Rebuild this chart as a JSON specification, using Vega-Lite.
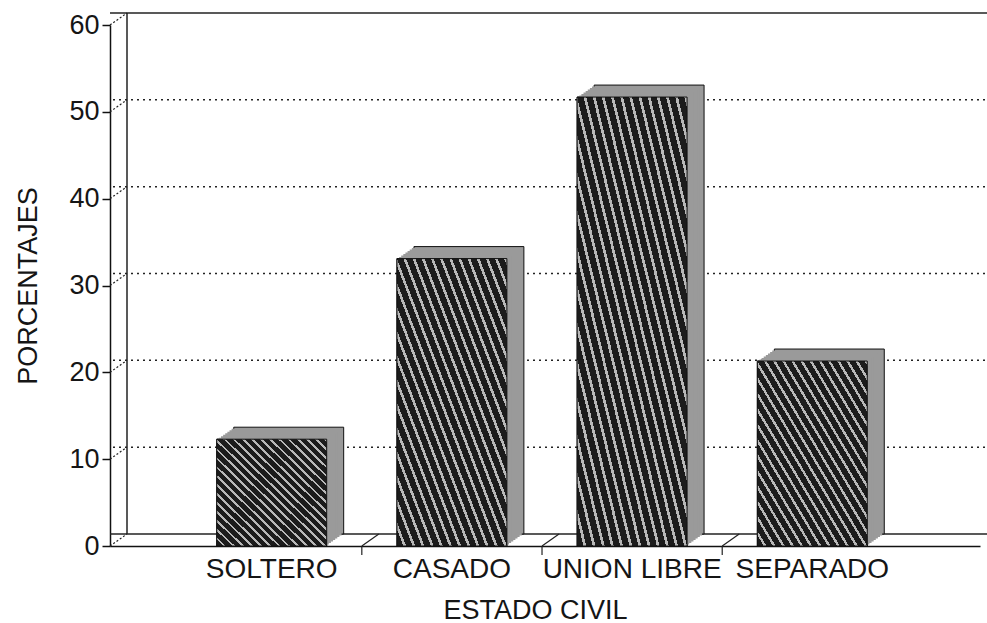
{
  "$schema": "https://vega.github.io/schema/vega-lite/v6.json",
  "width": 870,
  "height": 521,
  "autosize": {"type": "none"},
  "padding": {"left": 110, "top": 25, "right": 7, "bottom": 77},
  "background": "white",
  "config": {
    "view": {"stroke": null},
    "axis": {
      "labelFont": "Liberation Sans",
      "titleFont": "Liberation Sans",
      "labelFontSize": 27,
      "titleFontSize": 27,
      "titleFontWeight": "normal",
      "labelColor": "#151515",
      "titleColor": "#151515",
      "domainColor": "#111111",
      "domainWidth": 1.5,
      "tickColor": "#111111",
      "grid": false
    }
  },
  "datasets": {
    "bars": [
      {"cat": "SOLTERO", "value": 12.3},
      {"cat": "CASADO", "value": 33.1},
      {"cat": "UNION LIBRE", "value": 51.7},
      {"cat": "SEPARADO", "value": 21.3}
    ],
    "ticks": [{"v": 0}, {"v": 10}, {"v": 20}, {"v": 30}, {"v": 40}, {"v": 50}, {"v": 60}]
  },
  "layer": [
    {
      "data": {"name": "bars"},
      "mark": {
        "type": "bar",
        "width": {"band": 0.61},
        "stroke": "#111111",
        "strokeWidth": 1,
        "fillOpacity": 0
      },
      "encoding": {
        "x": {
          "field": "cat", "type": "nominal",
          "scale": {"domain": ["SOLTERO", "CASADO", "UNION LIBRE", "SEPARADO"], "paddingInner": 0, "paddingOuter": 0.414, "align": 0.48},
          "axis": {"title": "ESTADO CIVIL", "labelAngle": 0, "ticks": false, "labelPadding": 9, "labelFontSize": 28, "titlePadding": 14, "titleX": 425, "titleY": 51, "labelLimit": 300}
        },
        "y": {
          "field": "value", "type": "quantitative",
          "scale": {"domain": [0, 60], "nice": false},
          "axis": {"title": "PORCENTAJES", "values": [0, 10, 20, 30, 40, 50, 60], "tickSize": 8, "tickWidth": 1.5, "labelPadding": 3, "titlePadding": 26}
        },
        "y2": {"datum": 0}
      }
    },
    {
      "data": {"name": "ticks"},
      "transform": [{"filter": "datum.v > 0 && datum.v < 60"}],
      "mark": {"type": "rule", "color": "#222222", "strokeWidth": 1.5, "strokeDash": [2, 4], "xOffset": 17, "x2Offset": 17, "yOffset": -12},
      "encoding": {"y": {"field": "v", "type": "quantitative"}}
    },
    {
      "data": {"name": "ticks"},
      "transform": [{"filter": "datum.v == 0 || datum.v == 60"}],
      "mark": {"type": "rule", "color": "#222222", "strokeWidth": 1.5, "xOffset": 17, "x2Offset": 17, "yOffset": -12},
      "encoding": {"y": {"field": "v", "type": "quantitative"}}
    },
    {
      "data": {"name": "ticks"},
      "transform": [{"filter": "datum.v == 0"}],
      "mark": {"type": "rule", "color": "#222222", "strokeWidth": 1.5, "xOffset": 17, "yOffset": -12, "y2Offset": -12},
      "encoding": {
        "x": {"value": 0},
        "y": {"field": "v", "type": "quantitative"},
        "y2": {"datum": 60}
      }
    },
    {
      "data": {"name": "ticks"},
      "mark": {"type": "rule", "color": "#222222", "strokeWidth": 1.2, "strokeDash": [2, 2], "x2Offset": 17, "y2Offset": -12},
      "encoding": {
        "x": {"value": 0},
        "x2": {"value": 0},
        "y": {"field": "v", "type": "quantitative"},
        "y2": {"field": "v"}
      }
    },
    {
      "data": {"name": "bars"},
      "mark": {"type": "bar", "width": {"band": 0.61}, "fill": "#9a9a9a", "stroke": "#111111", "strokeWidth": 1, "xOffset": 17, "x2Offset": 17, "yOffset": -12, "y2Offset": -12},
      "encoding": {
        "x": {"field": "cat", "type": "nominal"},
        "y": {"field": "value", "type": "quantitative"},
        "y2": {"datum": 0}
      }
    },
    {
      "data": {"name": "bars"},
      "mark": {"type": "bar", "width": {"band": 0.61}, "fill": "#9a9a9a", "xOffset": 14.875, "x2Offset": 14.875, "yOffset": -10.5, "y2Offset": -10.5},
      "encoding": {
        "x": {"field": "cat", "type": "nominal"},
        "y": {"field": "value", "type": "quantitative"},
        "y2": {"datum": 0}
      }
    },
    {
      "data": {"name": "bars"},
      "mark": {"type": "bar", "width": {"band": 0.61}, "fill": "#9a9a9a", "xOffset": 12.75, "x2Offset": 12.75, "yOffset": -9, "y2Offset": -9},
      "encoding": {
        "x": {"field": "cat", "type": "nominal"},
        "y": {"field": "value", "type": "quantitative"},
        "y2": {"datum": 0}
      }
    },
    {
      "data": {"name": "bars"},
      "mark": {"type": "bar", "width": {"band": 0.61}, "fill": "#9a9a9a", "xOffset": 10.625, "x2Offset": 10.625, "yOffset": -7.5, "y2Offset": -7.5},
      "encoding": {
        "x": {"field": "cat", "type": "nominal"},
        "y": {"field": "value", "type": "quantitative"},
        "y2": {"datum": 0}
      }
    },
    {
      "data": {"name": "bars"},
      "mark": {"type": "bar", "width": {"band": 0.61}, "fill": "#9a9a9a", "xOffset": 8.5, "x2Offset": 8.5, "yOffset": -6, "y2Offset": -6},
      "encoding": {
        "x": {"field": "cat", "type": "nominal"},
        "y": {"field": "value", "type": "quantitative"},
        "y2": {"datum": 0}
      }
    },
    {
      "data": {"name": "bars"},
      "mark": {"type": "bar", "width": {"band": 0.61}, "fill": "#9a9a9a", "xOffset": 6.375, "x2Offset": 6.375, "yOffset": -4.5, "y2Offset": -4.5},
      "encoding": {
        "x": {"field": "cat", "type": "nominal"},
        "y": {"field": "value", "type": "quantitative"},
        "y2": {"datum": 0}
      }
    },
    {
      "data": {"name": "bars"},
      "mark": {"type": "bar", "width": {"band": 0.61}, "fill": "#9a9a9a", "xOffset": 4.25, "x2Offset": 4.25, "yOffset": -3, "y2Offset": -3},
      "encoding": {
        "x": {"field": "cat", "type": "nominal"},
        "y": {"field": "value", "type": "quantitative"},
        "y2": {"datum": 0}
      }
    },
    {
      "data": {"name": "bars"},
      "mark": {"type": "bar", "width": {"band": 0.61}, "fill": "#9a9a9a", "xOffset": 2.125, "x2Offset": 2.125, "yOffset": -1.5, "y2Offset": -1.5},
      "encoding": {
        "x": {"field": "cat", "type": "nominal"},
        "y": {"field": "value", "type": "quantitative"},
        "y2": {"datum": 0}
      }
    },
    {
      "data": {"name": "bars"},
      "mark": {
        "type": "bar",
        "width": {"band": 0.61},
        "stroke": "#111111",
        "strokeWidth": 1,
        "fill": {
          "gradient": "linear",
          "x1": 0, "y1": 1, "x2": 1, "y2": 0,
          "stops": [
            {"offset": 0, "color": "#1c1c1c"}, {"offset": 0.0292, "color": "#1c1c1c"}, {"offset": 0.0292, "color": "#b8b8b8"}, {"offset": 0.0417, "color": "#b8b8b8"},
            {"offset": 0.0417, "color": "#1c1c1c"}, {"offset": 0.0708, "color": "#1c1c1c"}, {"offset": 0.0708, "color": "#b8b8b8"}, {"offset": 0.0833, "color": "#b8b8b8"},
            {"offset": 0.0833, "color": "#1c1c1c"}, {"offset": 0.1125, "color": "#1c1c1c"}, {"offset": 0.1125, "color": "#b8b8b8"}, {"offset": 0.125, "color": "#b8b8b8"},
            {"offset": 0.125, "color": "#1c1c1c"}, {"offset": 0.1542, "color": "#1c1c1c"}, {"offset": 0.1542, "color": "#b8b8b8"}, {"offset": 0.1667, "color": "#b8b8b8"},
            {"offset": 0.1667, "color": "#1c1c1c"}, {"offset": 0.1958, "color": "#1c1c1c"}, {"offset": 0.1958, "color": "#b8b8b8"}, {"offset": 0.2083, "color": "#b8b8b8"},
            {"offset": 0.2083, "color": "#1c1c1c"}, {"offset": 0.2375, "color": "#1c1c1c"}, {"offset": 0.2375, "color": "#b8b8b8"}, {"offset": 0.25, "color": "#b8b8b8"},
            {"offset": 0.25, "color": "#1c1c1c"}, {"offset": 0.2792, "color": "#1c1c1c"}, {"offset": 0.2792, "color": "#b8b8b8"}, {"offset": 0.2917, "color": "#b8b8b8"},
            {"offset": 0.2917, "color": "#1c1c1c"}, {"offset": 0.3208, "color": "#1c1c1c"}, {"offset": 0.3208, "color": "#b8b8b8"}, {"offset": 0.3333, "color": "#b8b8b8"},
            {"offset": 0.3333, "color": "#1c1c1c"}, {"offset": 0.3625, "color": "#1c1c1c"}, {"offset": 0.3625, "color": "#b8b8b8"}, {"offset": 0.375, "color": "#b8b8b8"},
            {"offset": 0.375, "color": "#1c1c1c"}, {"offset": 0.4042, "color": "#1c1c1c"}, {"offset": 0.4042, "color": "#b8b8b8"}, {"offset": 0.4167, "color": "#b8b8b8"},
            {"offset": 0.4167, "color": "#1c1c1c"}, {"offset": 0.4458, "color": "#1c1c1c"}, {"offset": 0.4458, "color": "#b8b8b8"}, {"offset": 0.4583, "color": "#b8b8b8"},
            {"offset": 0.4583, "color": "#1c1c1c"}, {"offset": 0.4875, "color": "#1c1c1c"}, {"offset": 0.4875, "color": "#b8b8b8"}, {"offset": 0.5, "color": "#b8b8b8"},
            {"offset": 0.5, "color": "#1c1c1c"}, {"offset": 0.5292, "color": "#1c1c1c"}, {"offset": 0.5292, "color": "#b8b8b8"}, {"offset": 0.5417, "color": "#b8b8b8"},
            {"offset": 0.5417, "color": "#1c1c1c"}, {"offset": 0.5708, "color": "#1c1c1c"}, {"offset": 0.5708, "color": "#b8b8b8"}, {"offset": 0.5833, "color": "#b8b8b8"},
            {"offset": 0.5833, "color": "#1c1c1c"}, {"offset": 0.6125, "color": "#1c1c1c"}, {"offset": 0.6125, "color": "#b8b8b8"}, {"offset": 0.625, "color": "#b8b8b8"},
            {"offset": 0.625, "color": "#1c1c1c"}, {"offset": 0.6542, "color": "#1c1c1c"}, {"offset": 0.6542, "color": "#b8b8b8"}, {"offset": 0.6667, "color": "#b8b8b8"},
            {"offset": 0.6667, "color": "#1c1c1c"}, {"offset": 0.6958, "color": "#1c1c1c"}, {"offset": 0.6958, "color": "#b8b8b8"}, {"offset": 0.7083, "color": "#b8b8b8"},
            {"offset": 0.7083, "color": "#1c1c1c"}, {"offset": 0.7375, "color": "#1c1c1c"}, {"offset": 0.7375, "color": "#b8b8b8"}, {"offset": 0.75, "color": "#b8b8b8"},
            {"offset": 0.75, "color": "#1c1c1c"}, {"offset": 0.7792, "color": "#1c1c1c"}, {"offset": 0.7792, "color": "#b8b8b8"}, {"offset": 0.7917, "color": "#b8b8b8"},
            {"offset": 0.7917, "color": "#1c1c1c"}, {"offset": 0.8208, "color": "#1c1c1c"}, {"offset": 0.8208, "color": "#b8b8b8"}, {"offset": 0.8333, "color": "#b8b8b8"},
            {"offset": 0.8333, "color": "#1c1c1c"}, {"offset": 0.8625, "color": "#1c1c1c"}, {"offset": 0.8625, "color": "#b8b8b8"}, {"offset": 0.875, "color": "#b8b8b8"},
            {"offset": 0.875, "color": "#1c1c1c"}, {"offset": 0.9042, "color": "#1c1c1c"}, {"offset": 0.9042, "color": "#b8b8b8"}, {"offset": 0.9167, "color": "#b8b8b8"},
            {"offset": 0.9167, "color": "#1c1c1c"}, {"offset": 0.9458, "color": "#1c1c1c"}, {"offset": 0.9458, "color": "#b8b8b8"}, {"offset": 0.9583, "color": "#b8b8b8"},
            {"offset": 0.9583, "color": "#1c1c1c"}, {"offset": 0.9875, "color": "#1c1c1c"}, {"offset": 0.9875, "color": "#b8b8b8"}, {"offset": 1, "color": "#b8b8b8"}
          ]
        }
      },
      "encoding": {
        "x": {"field": "cat", "type": "nominal"},
        "y": {"field": "value", "type": "quantitative"},
        "y2": {"datum": 0}
      }
    },
    {
      "data": {"name": "bars"},
      "transform": [{"filter": "datum.cat != 'SOLTERO'"}],
      "mark": {"type": "rule", "color": "#222222", "strokeWidth": 1.2, "y2Offset": 9},
      "encoding": {
        "x": {"field": "cat", "type": "nominal", "bandPosition": 0},
        "y": {"datum": 0, "type": "quantitative"},
        "y2": {"datum": 0}
      }
    },
    {
      "data": {"name": "bars"},
      "transform": [{"filter": "datum.cat != 'SOLTERO'"}],
      "mark": {"type": "rule", "color": "#222222", "strokeWidth": 1.2, "x2Offset": 17, "y2Offset": -12},
      "encoding": {
        "x": {"field": "cat", "type": "nominal", "bandPosition": 0},
        "x2": {"field": "cat", "bandPosition": 0},
        "y": {"datum": 0, "type": "quantitative"},
        "y2": {"datum": 0}
      }
    }
  ]
}
